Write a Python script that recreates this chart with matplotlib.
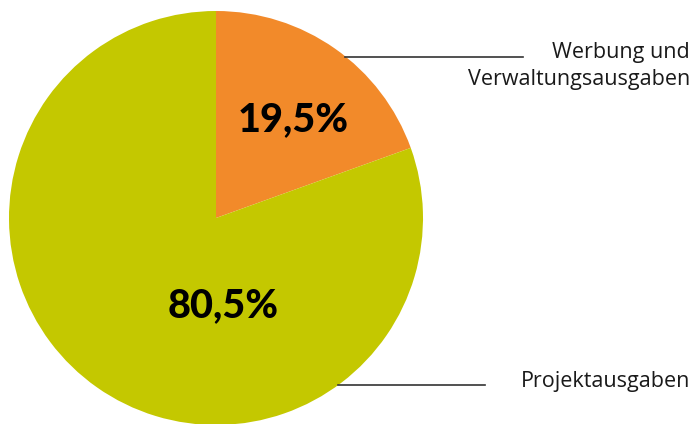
import matplotlib
matplotlib.use("Agg")
import matplotlib.pyplot as plt

categories = ["Werbung und\nVerwaltungsausgaben", "Projektausgaben"]
values = [19.5, 80.5]
pct_labels = ["19,5%", "80,5%"]
colors = ["#F28A2A", "#C4C800"]

W, H = 693, 424
fig = plt.figure(figsize=(W / 100, H / 100), dpi=100)
ax = fig.add_axes([0, 0, 1, 1])

cx, cy, r = 216, H - 218, 207
wedges, _ = ax.pie(values, colors=colors, startangle=90, counterclock=False,
                   center=(cx, cy), radius=r, frame=True,
                   wedgeprops=dict(linewidth=0))
ax.set_xlim(0, W)
ax.set_ylim(0, H)
ax.set_aspect("equal")
ax.axis("off")

# percentage labels
ax.text(293, H - 120, pct_labels[0], ha="center", va="center",
        fontsize=28.5, fontweight=900, family="Lato", color="black")
ax.text(223, H - 306, pct_labels[1], ha="center", va="center",
        fontsize=28.5, fontweight=900, family="Lato", color="black")

# leader lines
ax.plot([345, 523], [H - 57, H - 57], color="#333333", lw=1.2)
ax.plot([338, 485], [H - 385, H - 385], color="#333333", lw=1.2)

ax.text(690, H - 66, categories[0], ha="right", va="center",
        fontsize=15.5, family="Open Sans", color="#1a1a1a", linespacing=1.35)
ax.text(690, H - 382, categories[1], ha="right", va="center",
        fontsize=15.5, family="Open Sans", color="#1a1a1a")

fig.savefig("out.png", dpi=100)
